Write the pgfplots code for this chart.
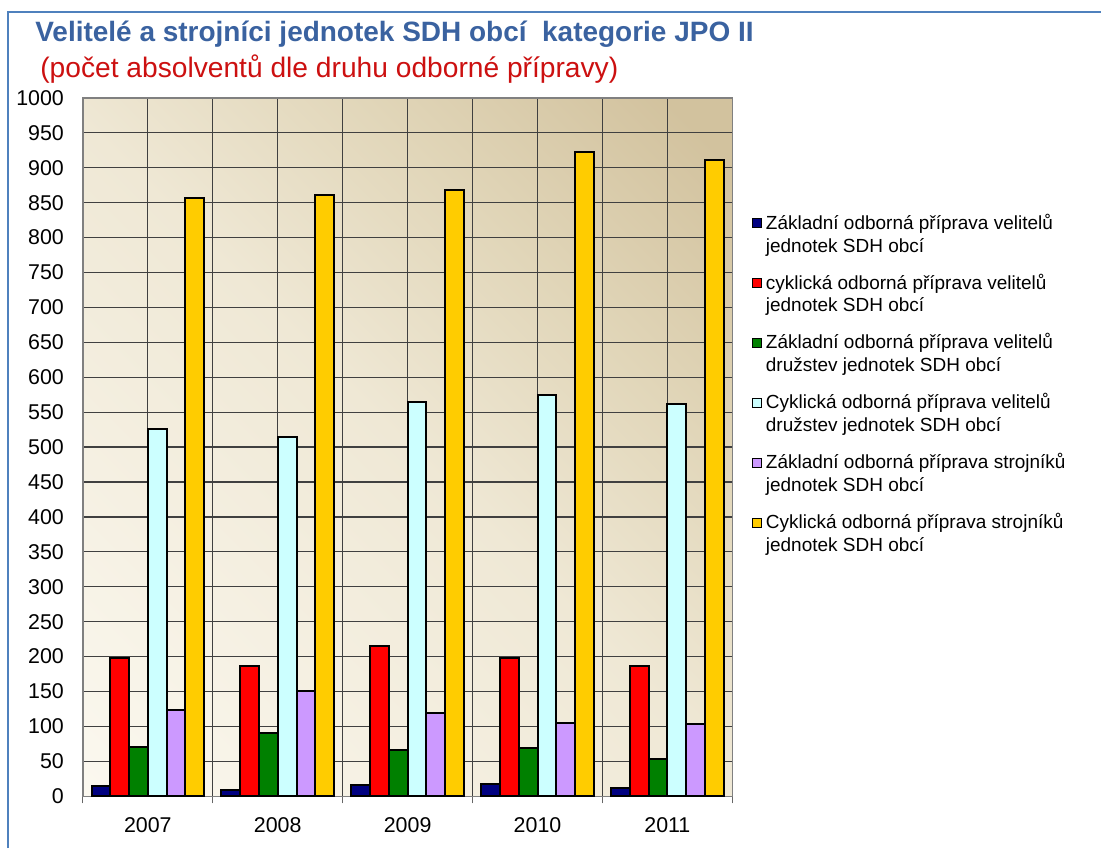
\documentclass[border=0pt]{standalone}
\usepackage{fontspec}
\setmainfont{Liberation Sans}
\usepackage{pgfplots}
\pgfplotsset{compat=1.18}
\definecolor{borderblue}{HTML}{4F81BD}
\definecolor{titleblue}{HTML}{3A62A0}
\definecolor{subred}{HTML}{CC1010}
\definecolor{bgLight}{HTML}{FBF8EF}
\definecolor{bgMid}{HTML}{EFE8D5}
\definecolor{bgMid2}{HTML}{E1D6B9}
\definecolor{bgDark}{HTML}{D2C29E}
\definecolor{cNavy}{HTML}{000080}
\definecolor{cRed}{HTML}{FF0000}
\definecolor{cGreen}{HTML}{008000}
\definecolor{cCyan}{HTML}{CCFFFF}
\definecolor{cLav}{HTML}{CC99FF}
\definecolor{cYel}{HTML}{FFCC00}
\pgfdeclareverticalshading{plotbg}{100bp}{color(0bp)=(bgLight); color(15bp)=(bgLight);
  color(50bp)=(bgMid); color(66bp)=(bgMid2); color(82bp)=(bgDark); color(100bp)=(bgDark)}

\begin{document}
\begin{tikzpicture}
  \path (0pt,0pt) rectangle (551pt,424.5pt);
  \draw[borderblue, line width=1pt] (4pt,0pt) -- (4pt,418.5pt) -- (551pt,418.5pt);
  \node[anchor=base west, inner sep=0, text=titleblue, font=\fontsize{14}{15}\selectfont\bfseries]
    at (17.5pt,403.5pt) {Velitelé a strojníci jednotek SDH obcí\ \ kategorie JPO II};
  \node[anchor=base west, inner sep=0, text=subred, font=\fontsize{14.1}{15}\selectfont]
    at (20pt,385.5pt) {(počet absolventů dle druhu odborné přípravy)};
  \begin{axis}[
    at={(41.5pt,26pt)}, anchor=south west,
    scale only axis, width=325pt, height=349.5pt,
    ybar=0pt, bar width=9.4pt,
    xmin=-0.5, xmax=4.5, ymin=0, ymax=1000,
    xtick={0,1,2,3,4},
    xticklabels={2007,2008,2009,2010,2011},
    minor xtick={-0.5,0.5,1.5,2.5,3.5,4.5},
    ytick={0,50,...,1000},
    major tick length=0pt, minor tick length=3.5pt,
    tick align=outside, xtick pos=bottom, ytick pos=left,
    xmajorgrids, xminorgrids, ymajorgrids,
    major grid style={black!75, line width=0.6pt},
    minor grid style={black!75, line width=0.5pt},
    minor tick style={black!60, line width=0.5pt},
    axis line style={black!50, line width=0.7pt},
    axis background/.style={shade, shading=plotbg, shading angle=-45},
    ticklabel style={font=\fontsize{10.7}{12}\selectfont},
    /pgf/number format/assume math mode=true,
    /pgf/number format/1000 sep={},
    yticklabel style={xshift=-6pt},
    xticklabel style={yshift=-7pt},
    every axis plot/.append style={draw=black, line width=1pt},
    legend image code/.code={
      \path[draw=none, fill=none] (0pt,-8pt) -- (0pt,8pt);
      \draw[#1, line width=0.5pt] (0pt,3.3pt) rectangle (4.6pt,7.9pt);},
    legend style={at={(axis description cs:1.02,0.846)}, anchor=north west,
      draw=none, fill=none, font=\fontsize{9.5}{11.5}\selectfont,
      row sep=5.3pt, cells={anchor=west, align=left}},
  ]
  \addplot[fill=cNavy] coordinates {(0,14) (1,9) (2,16) (3,17) (4,12)};
  \addplot[fill=cRed] coordinates {(0,198) (1,187) (2,215) (3,198) (4,187)};
  \addplot[fill=cGreen] coordinates {(0,70) (1,91) (2,66) (3,69) (4,54)};
  \addplot[fill=cCyan] coordinates {(0,526) (1,515) (2,564) (3,575) (4,562)};
  \addplot[fill=cLav] coordinates {(0,124) (1,151) (2,119) (3,105) (4,104)};
  \addplot[fill=cYel] coordinates {(0,856) (1,861) (2,868) (3,923) (4,911)};
  \addlegendentry{Základní odborná příprava velitelů\\jednotek SDH obcí}
  \addlegendentry{cyklická odborná příprava velitelů\\jednotek SDH obcí}
  \addlegendentry{Základní odborná příprava velitelů\\družstev jednotek SDH obcí}
  \addlegendentry{Cyklická odborná příprava velitelů\\družstev jednotek SDH obcí}
  \addlegendentry{Základní odborná příprava strojníků\\jednotek SDH obcí}
  \addlegendentry{Cyklická odborná příprava strojníků\\jednotek SDH obcí}
  \end{axis}
\end{tikzpicture}
\end{document}
